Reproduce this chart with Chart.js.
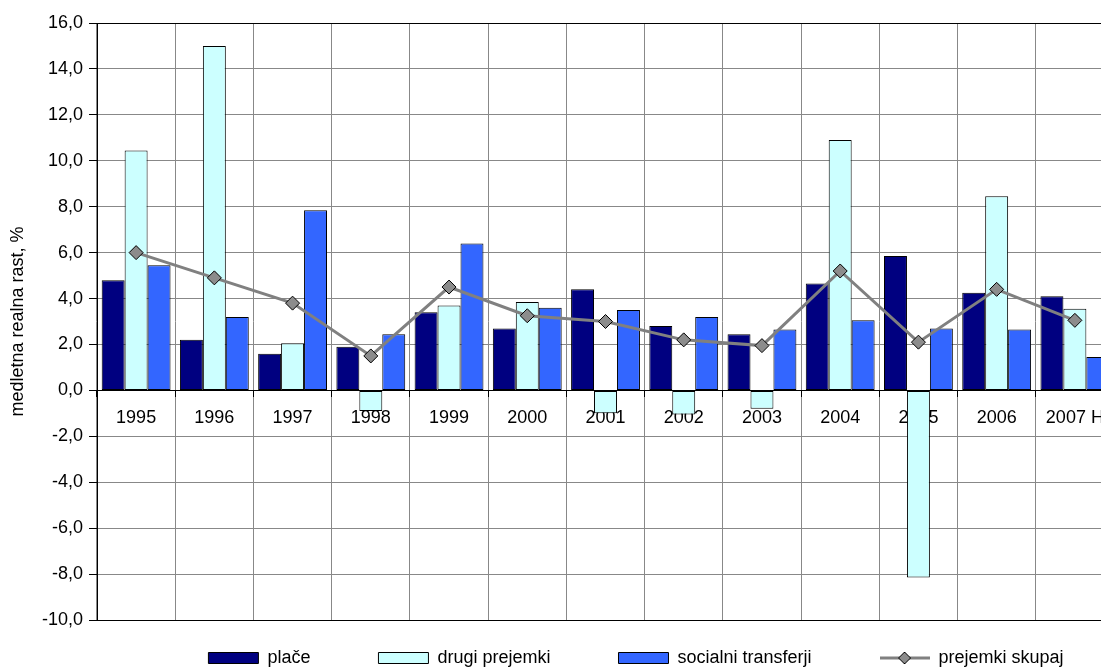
<!DOCTYPE html>
<html>
<head>
<meta charset="utf-8">
<script src="https://cdn.jsdelivr.net/npm/chart.js@4"></script>
<style>
  html, body { margin: 0; padding: 0; background: #fff; overflow: hidden; }
  #wrap { width: 1101px; height: 669px; overflow: hidden; }
  #chart { display: block; }
</style>
</head>
<body>
<div id="wrap"><canvas id="chart" width="1140" height="669" style="width:1140px;height:669px"></canvas></div>
<script>
// Data
const years = ['1995', '1996', '1997', '1998', '1999', '2000', '2001', '2002', '2003', '2004', '2005', '2006', '2007 H'];
const place = [4.8, 2.2, 1.6, 1.9, 3.4, 2.7, 4.4, 2.8, 2.45, 4.65, 5.85, 4.25, 4.1];
const drugiPrejemki = [10.45, 15.0, 2.05, -0.9, 3.7, 3.85, -1.0, -1.05, -0.8, 10.9, -8.15, 8.45, 3.55];
const socialniTransferji = [5.45, 3.2, 7.85, 2.45, 6.4, 3.6, 3.5, 3.2, 2.65, 3.05, 2.7, 2.65, 1.45];
const prejemkiSkupaj = [6.0, 4.9, 3.8, 1.5, 4.5, 3.25, 3.0, 2.2, 1.95, 5.2, 2.1, 4.4, 3.05];
const yMin = -10, yMax = 16, yStep = 2;

Chart.defaults.font.family = '"Liberation Sans", Arial, sans-serif';
Chart.defaults.font.size = 18;
Chart.defaults.color = '#000';

// small picture for the line entry of the legend: line with a diamond
function lineLegendIcon() {
    const c = document.createElement('canvas');
    c.width = 50; c.height = 16;
    const g = c.getContext('2d');
    g.strokeStyle = '#808080';
    g.lineWidth = 3;
    g.beginPath(); g.moveTo(0, 8); g.lineTo(50, 8); g.stroke();
    g.fillStyle = '#8c8c8c';
    g.strokeStyle = '#000';
    g.lineWidth = 1;
    g.beginPath();
    g.moveTo(19, 8); g.lineTo(25, 2); g.lineTo(31, 8); g.lineTo(25, 14); g.closePath();
    g.fill(); g.stroke();
    return c;
}
const lineIcon = lineLegendIcon();

// move the legend where the reference has it
const legendPlace = {
    id: 'legendPlace',
    afterLayout(chart) {
        const lg = chart.legend;
        if (!lg) return;
        lg.left = 0;
        lg.right = 1272;
        lg.top = 581;
        lg.bottom = 669;
    }
};

function barSet(label, data, color) {
    return {
        type: 'bar',
        label: label,
        data: data,
        backgroundColor: color,
        borderColor: '#000',
        borderWidth: 1,
        borderSkipped: false,
        pointStyle: 'rect',
        categoryPercentage: 0.88,
        barPercentage: 1.0,
        order: 1
    };
}

new Chart(document.getElementById('chart'), {
    type: 'bar',
    data: {
        labels: years,
        datasets: [
            barSet('plače', place, '#000080'),
            barSet('drugi prejemki', drugiPrejemki, '#CCFFFF'),
            barSet('socialni transferji', socialniTransferji, '#3366FF'),
            {
                type: 'line',
                label: 'prejemki skupaj',
                data: prejemkiSkupaj,
                borderColor: '#808080',
                borderWidth: 3,
                pointStyle: 'rectRot',
                pointRadius: 7,
                pointBackgroundColor: '#8c8c8c',
                pointBorderColor: '#000',
                pointBorderWidth: 1,
                tension: 0,
                order: 0
            }
        ]
    },
    options: {
        responsive: false,
        animation: false,
        layout: { padding: { top: 23, right: 26, bottom: 0, left: 0 } },
        scales: {
            x: {
                position: { y: 0 },
                offset: true,
                z: 1,
                grid: {
                    offset: true,
                    color: '#888',
                    tickColor: '#000',
                    tickLength: 6,
                    lineWidth: 1
                },
                border: { color: '#000', width: 1 },
                ticks: { padding: 11, maxRotation: 0, autoSkip: false }
            },
            y: {
                min: yMin,
                max: yMax,
                afterFit: function(scale) { scale.width = 97; },
                ticks: {
                    stepSize: yStep,
                    padding: 6,
                    callback: function(v) { return v.toFixed(1).replace('.', ','); }
                },
                grid: {
                    color: function(ctx) {
                        const v = ctx.tick && ctx.tick.value;
                        return (v === yMax || v === yMin || v === 0) ? '#000' : '#888';
                    },
                    tickColor: '#000',
                    tickLength: 8
                },
                border: { color: '#000', width: 1 },
                title: {
                    display: true,
                    text: 'medletna realna rast, %',
                    padding: { top: 7, bottom: 0 }
                }
            }
        },
        plugins: {
            tooltip: { enabled: false },
            legend: {
                position: 'bottom',
                maxHeight: 49,
                labels: {
                    usePointStyle: true,
                    pointStyleWidth: 50,
                    boxHeight: 11,
                    padding: 68,
                    color: '#000',
                    sort: function(a, b) { return a.datasetIndex - b.datasetIndex; },
                    generateLabels: function(chart) {
                        const items = Chart.defaults.plugins.legend.labels.generateLabels(chart);
                        items.forEach(function(it) {
                            if (it.datasetIndex === 3) {
                                it.pointStyle = lineIcon;
                            }
                        });
                        return items;
                    }
                }
            }
        }
    },
    plugins: [legendPlace]
});
</script>
</body>
</html>
